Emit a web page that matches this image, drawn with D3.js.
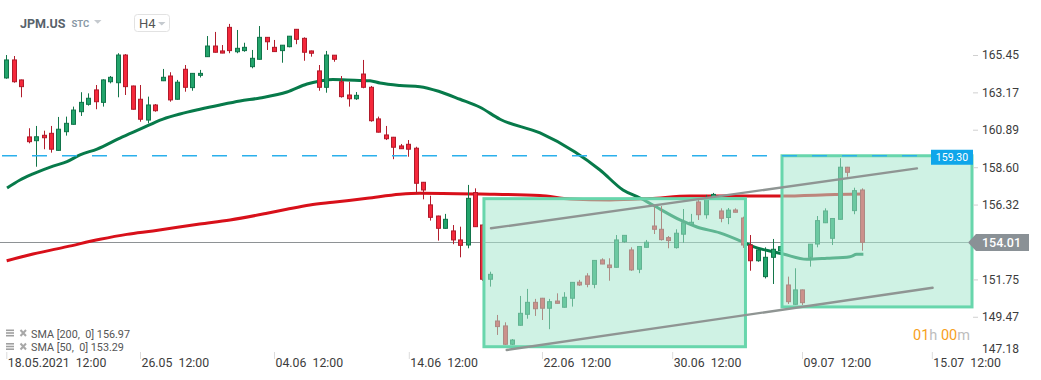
<!DOCTYPE html>
<html><head><meta charset="utf-8">
<script src="https://cdn.jsdelivr.net/npm/d3@7"></script>
<style>
body{margin:0;background:#fff;}
svg{display:block;font-family:Roboto,'Noto Sans',sans-serif;}
.pre{white-space:pre;}
</style>
</head><body>
<svg id="c" width="1041" height="380"></svg>
<script>
// ---- data ----
const opens=[164.05,165.15,163.93,160.45,160.22,160.55,160.67,159.63,160.77,161.22,161.99,162.44,163.32,162.56,163.82,163.76,165.45,163.56,162.75,161.48,162.40,163.88,164.17,162.75,164.58,163.46,164.21,165.35,166.00,165.70,167.14,165.65,165.72,164.74,165.19,166.53,165.92,165.72,165.96,167.02,166.47,165.70,164.48,163.48,165.44,163.82,163.01,162.78,164.29,163.48,161.55,160.57,160.43,159.90,160.00,159.76,157.68,156.30,155.62,154.87,154.71,154.16,153.85,157.05,155.07,151.76,149.21,148.91,147.79,148.95,149.62,150.35,150.60,149.99,150.43,150.05,150.60,151.58,151.96,151.45,152.94,152.63,152.49,154.05,153.55,152.37,153.71,155.01,154.81,154.30,153.69,154.51,155.12,156.48,155.70,156.81,155.93,155.53,155.99,155.50,153.85,152.89,151.92,153.10,153.50,151.41,150.23,151.11,153.10,153.91,155.21,154.26,155.42,158.60,155.95,157.21];
const highs=[165.45,165.39,163.95,160.98,161.12,160.83,161.12,161.67,161.69,162.30,163.18,163.11,163.62,163.97,164.17,165.56,165.51,163.58,163.62,162.91,162.46,164.60,164.40,163.93,164.84,164.34,164.54,166.61,166.86,166.06,167.35,166.98,166.20,165.76,167.22,166.55,166.37,166.06,166.61,167.04,166.53,165.72,164.84,165.70,165.45,164.17,163.82,163.19,165.15,163.56,161.69,161.12,160.45,160.02,160.26,159.85,157.70,156.86,155.64,155.75,155.07,154.97,157.52,157.31,155.10,152.22,149.58,149.13,148.11,150.74,151.17,150.56,150.62,150.56,150.90,150.97,151.58,151.72,152.13,152.92,153.04,153.04,154.46,154.45,153.71,153.77,154.16,156.19,156.23,154.40,154.81,156.05,155.75,156.70,156.91,157.03,156.09,156.11,156.09,155.58,154.46,153.61,153.71,154.22,153.79,151.92,152.43,151.13,153.91,155.62,156.09,155.48,159.15,158.62,157.35,157.31];
const lows=[164.00,163.76,162.87,160.06,158.63,159.70,159.49,159.60,160.53,161.20,161.73,162.36,162.14,162.30,163.72,162.87,163.01,162.12,161.38,161.28,161.99,163.86,162.60,162.73,163.21,163.27,164.08,165.33,165.60,165.56,165.56,165.56,165.65,164.64,165.17,165.76,165.64,164.98,165.92,166.11,165.10,165.35,163.27,163.15,165.04,162.85,162.30,162.71,163.42,161.38,160.72,160.26,159.09,159.72,159.24,156.97,156.64,155.34,154.12,154.85,153.90,153.10,153.65,154.95,151.66,151.31,148.36,147.75,147.75,148.93,149.35,149.52,149.27,148.71,150.28,150.03,150.09,151.35,151.27,151.21,152.68,151.67,152.47,153.99,152.27,152.13,153.69,154.52,154.12,153.65,153.63,153.99,155.10,155.38,155.46,156.66,155.24,155.12,155.84,153.67,152.28,152.83,151.81,151.47,153.45,150.25,150.21,150.19,152.53,153.71,155.19,153.85,155.40,158.02,155.73,153.50];
const closes=[165.15,163.82,163.52,160.16,160.46,160.40,159.70,160.92,161.28,162.09,162.56,162.81,162.60,163.93,164.09,165.45,163.52,162.14,161.53,162.40,162.05,164.09,162.71,163.79,163.48,164.33,164.33,166.00,165.62,165.57,165.72,165.86,165.92,165.25,166.53,166.26,165.66,166.05,166.60,166.41,165.62,165.56,163.48,165.45,165.19,162.91,162.78,162.99,163.48,161.44,160.74,160.34,159.82,159.73,159.70,157.62,157.21,155.54,154.87,155.42,154.16,153.83,156.70,154.97,151.76,152.06,148.87,147.79,148.05,149.68,150.35,149.96,149.99,150.39,150.29,150.66,151.57,151.41,151.45,152.91,152.69,152.47,154.16,154.44,152.33,153.76,154.02,154.81,154.18,154.12,154.57,155.21,155.24,155.70,156.66,156.94,155.48,155.98,155.85,153.85,152.89,153.55,153.10,153.59,153.75,150.39,151.11,150.33,153.90,155.34,155.93,155.47,158.60,158.29,157.17,154.01];

const sma50Idx=[0.1,1.84,3.59,6.28,8.16,9.91,12.2,15.28,17.97,21.06,23.35,26.03,28.72,31.41,34.1,37.73,40.42,42.16,43.91,45.79,48.88,50.23,52.92,55.6,58.29,60.98,63.67,66.36,71.74,76.44,79.8,82.89,85.18,86.9,90.55,92.83,95.9,99.02,100.4,103.05,104.4,107.6,110.3,113.4,114.3,115.2];
const sma50Val=[157.33,157.82,158.19,158.67,158.94,159.35,159.71,160.38,160.92,161.54,161.85,162.14,162.40,162.64,162.83,163.19,163.68,163.86,163.96,163.93,163.88,163.74,163.59,163.52,163.21,162.75,162.26,161.53,160.69,159.53,158.43,157.21,156.72,156.29,155.38,154.95,154.59,154.03,153.75,153.44,153.30,152.98,153.04,153.14,153.28,153.29];
const sma200Idx=[0.05,3.59,8.16,12.6,16.2,19.7,26.0,30.07,35.04,37.7,40.8,43.9,48.5,52.9,55.6,63.7,71.7,75.8,81.1,86.5,91.9,104,111.4,115.2];
const sma200Val=[152.89,153.30,153.75,154.20,154.50,154.71,155.13,155.38,155.79,156.03,156.29,156.46,156.70,156.95,157.01,156.96,156.87,156.66,156.60,156.69,156.84,156.84,156.93,156.97];

const priceTicks=[165.45,163.17,160.89,158.60,156.32,151.75,149.47];
const lowestPriceLabel=147.18;
const timeTickIdx=[0,17.97,35.98,54.1,72.0,89.5,106.95,124.4];
const timeTickLabels=["18.05.2021  12:00","26.05  12:00","04.06  12:00","14.06  12:00","22.06  12:00","30.06  12:00","09.07  12:00","15.07  12:00"];
const lastPrice=154.01, alertPrice=159.30;
const legendNames=["SMA [200,  0] 156.97","SMA [50,  0] 153.29"];
const boxI0=[64.2,104.26], boxI1=[99.35,129.8], boxTop=[156.68,159.30], boxBottom=[147.64,150.07];
const chanI0=[65.15,67.26], chanV0=[154.87,147.44], chanI1=[122.4,124.5], chanV1=[158.53,151.24];

// ---- drawing ----
const svg=d3.select('#c');
const x=d3.scaleLinear().domain([0,115]).range([6.3,861.9]);
const y=d3.scaleLinear().domain([147.44,168.81]).range([350,0]);
const plotRight=973;

// current price line
svg.append('line').attr('x1',0).attr('x2',968).attr('y1',Math.round(y(lastPrice))+0.5).attr('y2',Math.round(y(lastPrice))+0.5)
  .attr('stroke','#8e9295').attr('stroke-width',1);

// SMA lines
const lineGen=d3.line().x(d=>x(d[0])).y(d=>y(d[1])).curve(d3.curveMonotoneX);
svg.append('path').datum(sma200Idx.map((d,i)=>[d,sma200Val[i]])).attr('d',lineGen)
  .attr('fill','none').attr('stroke','#d8101a').attr('stroke-width',3);
svg.append('path').datum(sma50Idx.map((d,i)=>[d,sma50Val[i]])).attr('d',lineGen)
  .attr('fill','none').attr('stroke','#077a4a').attr('stroke-width',3);

// candles
const idx=d3.range(opens.length);
const cg=svg.append('g');
const cx=i=>Math.round(x(i))+0.5;
const up=i=>closes[i]>=opens[i];
cg.selectAll('line').data(idx).join('line')
  .attr('x1',cx).attr('x2',cx).attr('y1',i=>y(highs[i])).attr('y2',i=>y(lows[i]))
  .attr('stroke',i=>up(i)?'#13764a':'#b21d2c').attr('stroke-width',1);
cg.selectAll('rect').data(idx).join('rect')
  .attr('x',i=>cx(i)-2).attr('width',4)
  .attr('y',i=>y(Math.max(opens[i],closes[i])))
  .attr('height',i=>Math.max(1,Math.abs(y(opens[i])-y(closes[i]))))
  .attr('fill',i=>up(i)?'#22a46b':'#f5283b')
  .attr('stroke',i=>up(i)?'#11744a':'#b01a2a').attr('stroke-width',1);

// boxes (semi transparent overlays)
const bg=svg.append('g');
boxI0.forEach((b,k)=>{
  const x0=x(boxI0[k]), x1=Math.min(x(boxI1[k]),plotRight), y0=y(boxTop[k]), y1=y(boxBottom[k]);
  bg.append('rect').attr('x',x0).attr('y',y0).attr('width',x1-x0).attr('height',y1-y0)
    .attr('fill','rgb(168,231,206)').attr('fill-opacity',0.55);
  bg.append('rect').attr('x',x0).attr('y',y0).attr('width',x1-x0).attr('height',y1-y0)
    .attr('fill','none').attr('stroke','#68d6ac').attr('stroke-width',3);
});

// alert dashed line
svg.append('line').attr('x1',2).attr('x2',931).attr('y1',y(alertPrice)).attr('y2',y(alertPrice))
  .attr('stroke','#2bb0ec').attr('stroke-width',1.6).attr('stroke-dasharray','15,15');

// channel lines
chanI0.forEach((c,k)=>{
  svg.append('line').attr('x1',x(chanI0[k])).attr('y1',y(chanV0[k])).attr('x2',x(chanI1[k])).attr('y2',y(chanV1[k]))
    .attr('stroke','#8f9593').attr('stroke-width',2.4).attr('stroke-linecap','round');
});

// right axis
const ra=svg.append('g').attr('transform',`translate(${plotRight},0)`)
  .call(d3.axisRight(y).tickValues(priceTicks).tickFormat(d3.format('.2f')).tickSize(5));
ra.select('.domain').remove();
ra.selectAll('line').attr('stroke','#d0d0d0');
ra.selectAll('text').attr('fill','#3c3c3c').style('font-size','12px').style('font-family','Roboto').attr('x',9);
svg.append('text').attr('x',982).attr('y',y(lowestPriceLabel)-1).text(lowestPriceLabel.toFixed(2))
  .attr('fill','#3c3c3c').style('font-size','12px');

// alert label
const ay=y(alertPrice);
svg.append('rect').attr('x',931).attr('y',ay-6).attr('width',42).attr('height',15).attr('fill','#0fa6ea');
svg.append('text').attr('x',952).attr('y',ay+5.5).attr('text-anchor','middle').text(alertPrice.toFixed(2))
  .attr('fill','#fff').style('font-size','10.5px');

// last price label
const ly=y(lastPrice);
svg.append('path').attr('d',`M968,${ly} L976,${ly-8.5} L1029,${ly-8.5} L1029,${ly+8.5} L976,${ly+8.5} Z`).attr('fill','#8a9196');
svg.append('text').attr('x',982).attr('y',ly+4.5).text(lastPrice.toFixed(2))
  .attr('fill','#fff').style('font-size','12.5px').style('font-weight','500');

// countdown
const cd=svg.append('text').attr('x',913).attr('y',340).style('font-size','14.5px');
cd.append('tspan').text('01').attr('fill','#f7a11c');
cd.append('tspan').text('h').attr('fill','#bdbdbd');
cd.append('tspan').text(' 00').attr('fill','#f7a11c').attr('class','pre');
cd.append('tspan').text('m').attr('fill','#bdbdbd');

// bottom axis
const ba=svg.append('g').attr('transform','translate(0,352)')
  .call(d3.axisBottom(x).tickValues(timeTickIdx).tickFormat((d,i)=>timeTickLabels[i]).tickSize(7));
ba.select('.domain').remove();
ba.selectAll('line').attr('stroke','#dcdcdc');
ba.selectAll('text').attr('text-anchor','start').attr('dx',1).attr('y',15).attr('dy',0)
  .attr('fill','#3c3c3c').style('font-size','12.3px').style('font-family','Roboto').attr('class','pre');

// legend
legendNames.forEach((t,k)=>{
  const yy=333.5+k*13.5;
  const lg=svg.append('g');
  lg.append('rect').attr('x',6).attr('y',yy-4).attr('width',8).attr('height',1.6).attr('fill','#a0a0a0');
  lg.append('rect').attr('x',6).attr('y',yy-1.3).attr('width',8).attr('height',1.6).attr('fill','#a0a0a0');
  lg.append('rect').attr('x',6).attr('y',yy+1.4).attr('width',8).attr('height',1.6).attr('fill','#a0a0a0');
  lg.append('path').attr('d',`M20.5,${yy-3.5} L26,${yy+2.5} M26,${yy-3.5} L20.5,${yy+2.5}`)
    .attr('stroke','#a8a8a8').attr('stroke-width',2);
  lg.append('text').attr('x',31).attr('y',yy+4).text(t).attr('class','pre')
    .attr('fill','#555').style('font-size','10.8px');
});

// header
svg.append('text').attr('x',20).attr('y',27.5).text('JPM.US').attr('fill','#58626b')
  .style('font-size','12.5px').style('font-weight','700');
svg.append('text').attr('x',71.5).attr('y',27).text('STC').attr('fill','#8a99a6')
  .style('font-size','9.5px').style('font-weight','700');
svg.append('path').attr('d','M94,20 L101.5,20 L97.75,23.8 Z').attr('fill','#c5cacf');
svg.append('rect').attr('x',134.5).attr('y',14.5).attr('width',35).attr('height',17).attr('rx',3)
  .attr('fill','none').attr('stroke','#e2e2e2');
svg.append('text').attr('x',139).attr('y',28).text('H4').attr('fill','#555').style('font-size','13px');
svg.append('path').attr('d','M158,22 L165.5,22 L161.75,25.6 Z').attr('fill','#c5cacf');
</script>
</body></html>
